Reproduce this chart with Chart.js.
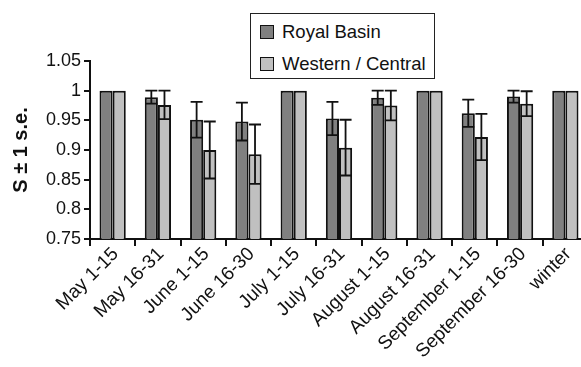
<!DOCTYPE html>
<html>
<head>
<meta charset="utf-8">
<script src="https://cdn.jsdelivr.net/npm/chart.js@4"></script>
<style>
    body { margin: 0; overflow: hidden; background: #fff; }
    .chart-wrap { position: relative; width: 600px; height: 367px; }
    .legend-box {
        position: absolute; left: 250px; top: 13px; width: 183px; height: 64px;
        border: 1px solid #222; background: #fff;
        font-family: "Liberation Sans", Arial, sans-serif; font-size: 18.5px; color: #111;
    }
    .legend-item { position: absolute; left: 9px; height: 20px; line-height: 20px; white-space: nowrap; }
    .legend-item span.sw {
        display: inline-block; width: 12px; height: 12px; border: 1.5px solid #111;
        vertical-align: -1px; margin-right: 8px;
    }
</style>
</head>
<body>
<div class="chart-wrap">
    <canvas id="survivalChart"></canvas>
    <div class="legend-box">
        <div class="legend-item" style="top:8px"><span class="sw" style="background:#808080"></span>Royal Basin</div>
        <div class="legend-item" style="top:40px"><span class="sw" style="background:#c0c0c0"></span>Western / Central</div>
    </div>
</div>

<script>
// periods on the x axis
const periods = ['May 1-15', 'May 16-31', 'June 1-15', 'June 16-30', 'July 1-15', 'July 16-31',
    'August 1-15', 'August 16-31', 'September 1-15', 'September 16-30', 'winter'];

// survival estimates and standard errors
const royalBasin = [1, 0.989, 0.951, 0.948, 1, 0.953, 0.988, 1, 0.962, 0.990, 1];
const royalBasinSE = [0, 0.011, 0.030, 0.032, 0, 0.028, 0.012, 0, 0.023, 0.010, 0];
const westernCentral = [1, 0.976, 0.900, 0.893, 1, 0.904, 0.975, 1, 0.922, 0.978, 1];
const westernCentralSE = [0, 0.024, 0.048, 0.050, 0, 0.047, 0.025, 0, 0.039, 0.021, 0];

const yTickLabels = ['0.75', '0.8', '0.85', '0.9', '0.95', '1', '1.05'];

const FONT = '"Liberation Sans", Arial, sans-serif';

// draw +-1 s.e. whiskers on top of the bars
const errorBars = {
    id: 'errorBars',
    afterDatasetsDraw(chart) {
        const ctx = chart.ctx;
        const yScale = chart.scales.y;
        ctx.save();
        ctx.strokeStyle = '#111';
        ctx.lineWidth = 1.8;
        chart.data.datasets.forEach((ds, i) => {
            const meta = chart.getDatasetMeta(i);
            meta.data.forEach((bar, j) => {
                const se = ds.errors[j];
                if (!se) return;
                const v = ds.data[j];
                const yTop = yScale.getPixelForValue(v + se);
                const yBot = yScale.getPixelForValue(v - se);
                const half = 6;
                ctx.beginPath();
                ctx.moveTo(bar.x, yTop);
                ctx.lineTo(bar.x, yBot);
                ctx.moveTo(bar.x - half, yTop);
                ctx.lineTo(bar.x + half, yTop);
                ctx.moveTo(bar.x - half, yBot);
                ctx.lineTo(bar.x + half, yBot);
                ctx.stroke();
            });
        });
        ctx.restore();
    }
};

new Chart(document.getElementById('survivalChart'), {
    type: 'bar',
    data: {
        labels: periods,
        datasets: [
            {
                label: 'Royal Basin',
                data: royalBasin,
                errors: royalBasinSE,
                backgroundColor: '#808080',
                borderColor: '#111',
                borderWidth: 2,
                borderSkipped: false
            },
            {
                label: 'Western / Central',
                data: westernCentral,
                errors: westernCentralSE,
                backgroundColor: '#c0c0c0',
                borderColor: '#111',
                borderWidth: 2,
                borderSkipped: false
            }
        ]
    },
    options: {
        responsive: true,
        maintainAspectRatio: false,
        animation: false,
        layout: { padding: { top: 61, right: 12, left: 0, bottom: 0 } },
        datasets: { bar: { categoryPercentage: 0.58, barPercentage: 1.0 } },
        plugins: {
            legend: { display: false },
            tooltip: { enabled: false }
        },
        scales: {
            x: {
                grid: { offset: true, drawOnChartArea: false, tickLength: 7, color: '#111', lineWidth: 2 },
                border: { display: true, color: '#111', width: 2 },
                ticks: {
                    color: '#111',
                    font: { family: FONT, size: 19 },
                    minRotation: 45,
                    maxRotation: 45,
                    autoSkip: false,
                    labelOffset: 3,
                    padding: -3
                },
                afterFit(scale) { scale.height = 128; }
            },
            y: {
                min: 0.75,
                max: 1.05,
                grid: { drawOnChartArea: false, tickLength: 6, color: '#111', lineWidth: 2 },
                border: { display: true, color: '#111', width: 2 },
                ticks: {
                    stepSize: 0.05,
                    color: '#111',
                    padding: 3,
                    font: { family: FONT, size: 18 },
                    callback: (value) => yTickLabels[Math.round((value - 0.75) / 0.05)]
                },
                title: {
                    display: true,
                    text: 'S ± 1 s.e.',
                    color: '#111',
                    font: { family: FONT, size: 20, weight: 'bold' },
                    padding: { top: 9, bottom: 0 }
                },
                afterFit(scale) { scale.width = 90; }
            }
        }
    },
    plugins: [errorBars]
});
</script>
</body>
</html>
